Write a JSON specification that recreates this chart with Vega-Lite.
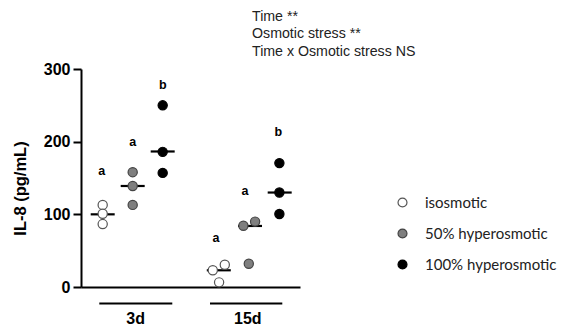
{
  "$schema": "https://vega.github.io/schema/vega-lite/v6.json",
  "autosize": "none",
  "width": 219,
  "height": 218,
  "padding": {"left": 81, "top": 69, "right": 261, "bottom": 40},
  "background": "white",
  "config": {"view": {"stroke": null}, "font": "Liberation Sans"},
  "title": {
    "text": ["Time **", "Osmotic stress **", "Time x Osmotic stress NS"],
    "anchor": "start",
    "frame": "group",
    "dx": 171,
    "offset": 2,
    "font": "Liberation Sans",
    "fontSize": 14.2,
    "fontWeight": "normal",
    "lineHeight": 17.5,
    "color": "#222"
  },
  "datasets": {
    "points": [
      {"time": "3d", "stress": "isosmotic", "pos": 1, "il8": 113},
      {"time": "3d", "stress": "isosmotic", "pos": 1, "il8": 100.8},
      {"time": "3d", "stress": "isosmotic", "pos": 1, "il8": 86.6},
      {"time": "3d", "stress": "50% hyperosmotic", "pos": 2, "il8": 158},
      {"time": "3d", "stress": "50% hyperosmotic", "pos": 2, "il8": 139},
      {"time": "3d", "stress": "50% hyperosmotic", "pos": 2, "il8": 113},
      {"time": "3d", "stress": "100% hyperosmotic", "pos": 3, "il8": 250},
      {"time": "3d", "stress": "100% hyperosmotic", "pos": 3, "il8": 186},
      {"time": "3d", "stress": "100% hyperosmotic", "pos": 3, "il8": 157},
      {"time": "15d", "stress": "isosmotic", "pos": 4.67, "il8": 23},
      {"time": "15d", "stress": "isosmotic", "pos": 5.07, "il8": 30.7},
      {"time": "15d", "stress": "isosmotic", "pos": 4.88, "il8": 6.4},
      {"time": "15d", "stress": "50% hyperosmotic", "pos": 5.69, "il8": 84.3},
      {"time": "15d", "stress": "50% hyperosmotic", "pos": 6.08, "il8": 90},
      {"time": "15d", "stress": "50% hyperosmotic", "pos": 5.87, "il8": 32},
      {"time": "15d", "stress": "100% hyperosmotic", "pos": 6.89, "il8": 170.5},
      {"time": "15d", "stress": "100% hyperosmotic", "pos": 6.89, "il8": 130},
      {"time": "15d", "stress": "100% hyperosmotic", "pos": 6.89, "il8": 100.4}
    ],
    "medians": [
      {"time": "3d", "stress": "isosmotic", "pos": 1, "il8": 100},
      {"time": "3d", "stress": "50% hyperosmotic", "pos": 2, "il8": 139},
      {"time": "3d", "stress": "100% hyperosmotic", "pos": 3, "il8": 186.5},
      {"time": "15d", "stress": "isosmotic", "pos": 4.87, "il8": 23},
      {"time": "15d", "stress": "50% hyperosmotic", "pos": 5.91, "il8": 84},
      {"time": "15d", "stress": "100% hyperosmotic", "pos": 6.9, "il8": 130}
    ],
    "letters": [
      {"pos": 0.97, "il8": 154.5, "label": "a"},
      {"pos": 2.0, "il8": 194, "label": "a"},
      {"pos": 3.0, "il8": 273, "label": "b"},
      {"pos": 4.78, "il8": 62, "label": "a"},
      {"pos": 5.74, "il8": 127, "label": "a"},
      {"pos": 6.85, "il8": 208, "label": "b"}
    ],
    "groups": [
      {"time": "3d", "start": 0.887, "end": 3.32},
      {"time": "15d", "start": 4.577, "end": 6.987}
    ]
  },
  "layer": [
    {
      "data": {"name": "groups"},
      "mark": {"type": "rule", "strokeWidth": 2, "color": "black"},
      "encoding": {
        "x": {"field": "start", "type": "quantitative"},
        "x2": {"field": "end"},
        "y": {"datum": -22.6, "type": "quantitative"}
      }
    },
    {
      "data": {"name": "medians"},
      "mark": {"type": "tick", "orient": "horizontal", "size": 24, "thickness": 2.2, "color": "black", "opacity": 1},
      "encoding": {
        "x": {"field": "pos", "type": "quantitative"},
        "y": {"field": "il8", "type": "quantitative"}
      }
    },
    {
      "data": {"name": "points"},
      "mark": {"type": "point", "shape": "circle", "filled": true, "size": 85, "strokeWidth": 1.2, "opacity": 1},
      "encoding": {
        "x": {"field": "pos", "type": "quantitative"},
        "y": {"field": "il8", "type": "quantitative"},
        "fill": {
          "field": "stress", "type": "nominal",
          "scale": {"domain": ["isosmotic", "50% hyperosmotic", "100% hyperosmotic"], "range": ["white", "#7f7f7f", "black"]},
          "legend": {
            "title": null,
            "orient": "none",
            "legendX": 314,
            "legendY": 126,
            "padding": 0,
            "symbolSize": 80,
            "symbolStrokeWidth": 1.2,
            "labelFont": "Lato",
            "labelFontSize": 15,
            "labelColor": "#222",
            "labelOffset": 15,
            "rowPadding": 15
          }
        },
        "stroke": {
          "field": "stress", "type": "nominal",
          "scale": {"domain": ["isosmotic", "50% hyperosmotic", "100% hyperosmotic"], "range": ["#555555", "#444444", "black"]},
          "legend": null
        }
      }
    },
    {
      "data": {"name": "letters"},
      "mark": {"type": "text", "fontSize": 12.5, "fontWeight": "bold", "font": "Liberation Sans", "baseline": "alphabetic", "align": "center", "color": "black"},
      "encoding": {
        "x": {"field": "pos", "type": "quantitative"},
        "y": {"field": "il8", "type": "quantitative"},
        "text": {"field": "label"}
      }
    }
  ],
  "encoding": {
    "x": {
      "type": "quantitative",
      "scale": {"domain": [0.277, 7.577], "nice": false, "zero": false},
      "axis": {
        "title": null,
        "values": [2.08, 5.82],
        "labelExpr": "datum.value < 4 ? '3d' : '15d'",
        "ticks": false,
        "tickSize": 0,
        "grid": false,
        "domainColor": "black",
        "domainWidth": 2,
        "labelFont": "Liberation Sans",
        "labelFontSize": 16,
        "labelFontWeight": "bold",
        "labelColor": "black",
        "labelPadding": 23
      }
    },
    "y": {
      "type": "quantitative",
      "scale": {"domain": [0, 300], "nice": false},
      "axis": {
        "title": "IL-8 (pg/mL)",
        "values": [0, 100, 200, 300],
        "grid": false,
        "domainColor": "black",
        "domainWidth": 2,
        "tickColor": "black",
        "tickWidth": 2,
        "tickSize": 8,
        "labelFont": "Liberation Sans",
        "labelFontSize": 16,
        "labelFontWeight": "bold",
        "labelColor": "black",
        "labelPadding": 3,
        "titleFont": "Liberation Sans",
        "titleFontSize": 16.5,
        "titleFontWeight": "bold",
        "titleColor": "black",
        "titleX": -61,
        "titleY": 119,
        "titleBaseline": "middle",
        "titleAlign": "center"
      }
    }
  }
}
